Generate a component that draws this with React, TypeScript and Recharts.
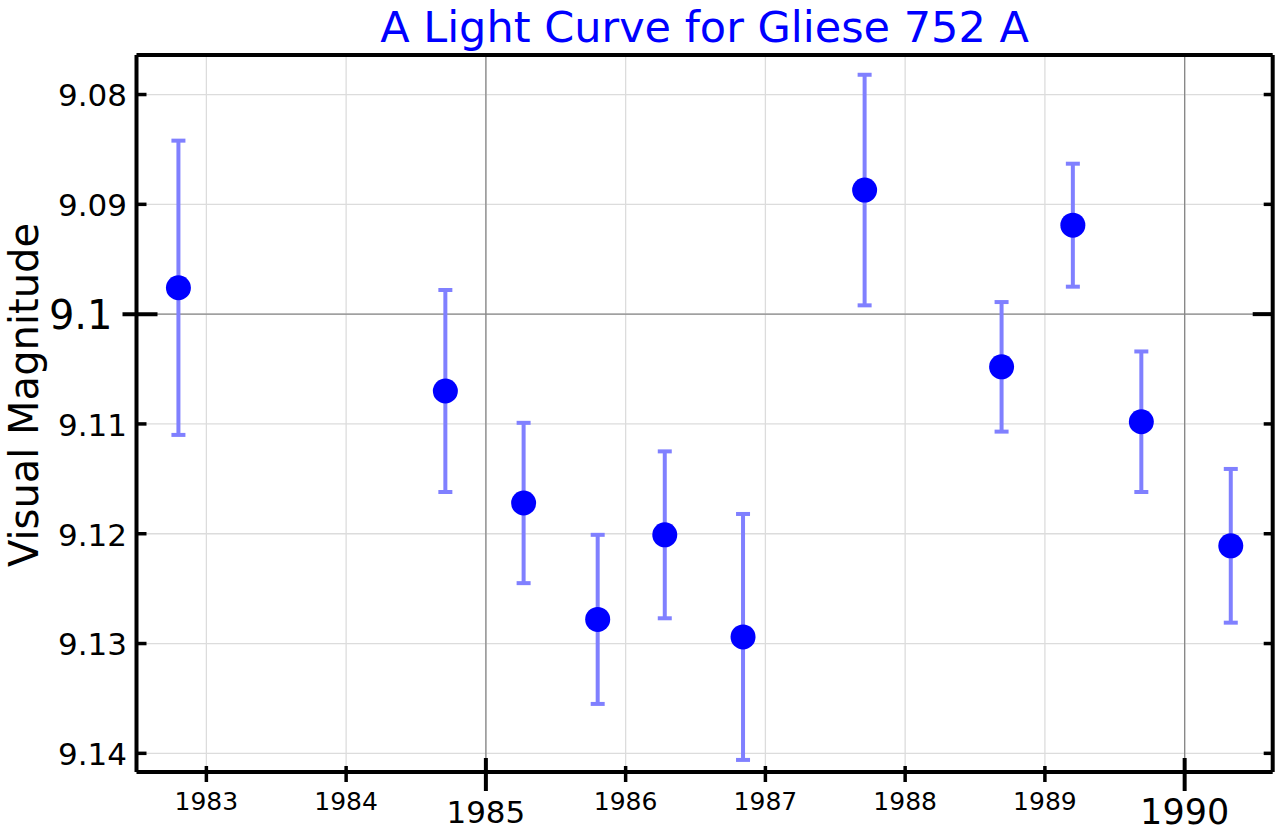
import React from "react"
import {
  ScatterChart,
  Scatter,
  XAxis,
  YAxis,
  CartesianGrid,
  ErrorBar,
  ReferenceLine,
} from "recharts"

// observation epochs (decimal year), visual magnitudes and 1-sigma errors
const years = [1982.8, 1984.71, 1985.27, 1985.8, 1986.28, 1986.84, 1987.71, 1988.69, 1989.2, 1989.69, 1990.33]
const mags = [9.0976, 9.107, 9.1172, 9.1278, 9.1201, 9.1294, 9.0887, 9.1048, 9.0919, 9.1098, 9.1211]
const errs = [0.0134, 0.0092, 0.0073, 0.0077, 0.0076, 0.0112, 0.0105, 0.0059, 0.0056, 0.0064, 0.007]

const yearTicks = [1983, 1984, 1985, 1986, 1987, 1988, 1989, 1990]
const magTicks = [9.08, 9.09, 9.1, 9.11, 9.12, 9.13, 9.14]
const majorYears = [1985, 1990]
const majorMags = [9.1]

const xDomain = [1982.5, 1990.63]
const yDomain = [9.0764, 9.1417]

const points = years.map((year, i) => ({ year, mag: mags[i], err: errs[i] }))

const FONT = '"DejaVu Sans", sans-serif'
const FRAME = 4

function BottomTick(props: any) {
  const { x, y, payload } = props
  const v = payload.value
  const major = majorYears.includes(v)
  const size = v === 1990 ? 35 : major ? 31 : 25
  const dy = v === 1990 ? 52 : major ? 51 : 38
  return (
    <g>
      <line
        x1={x}
        x2={x}
        y1={major ? y - 14 : y - 6}
        y2={major ? y + 19 : y + 10}
        stroke="#000"
        strokeWidth={major ? 4 : 3.5}
      />
      <text x={x} y={y + dy} textAnchor="middle" fontSize={size} fontFamily={FONT} fill="#000">
        {v}
      </text>
    </g>
  )
}

function TopTick(props: any) {
  const { x, y, payload } = props
  const major = majorYears.includes(payload.value)
  return <line x1={x} x2={x} y1={y} y2={y + (major ? 12 : 7)} stroke="#000" strokeWidth={major ? 4 : 3.5} />
}

function LeftTick(props: any) {
  const { x, y, payload } = props
  const v = payload.value
  const major = majorMags.includes(v)
  const size = major ? 40 : 31
  return (
    <g>
      <line
        x1={major ? x - 14 : x}
        x2={major ? x + 21 : x + 10}
        y1={y}
        y2={y}
        stroke="#000"
        strokeWidth={major ? 4 : 3.5}
      />
      <text
        x={x - (major ? 24 : 9.5)}
        y={y + size * 0.38}
        textAnchor="end"
        fontSize={size}
        fontFamily={FONT}
        fill="#000"
      >
        {String(v)}
      </text>
    </g>
  )
}

function RightTick(props: any) {
  const { x, y, payload } = props
  const major = majorMags.includes(payload.value)
  return <line x1={x - (major ? 20 : 9)} x2={x} y1={y} y2={y} stroke="#000" strokeWidth={major ? 4 : 3.5} />
}

function Dot(props: any) {
  return <circle cx={props.cx} cy={props.cy} r={12.5} fill="#0000ff" />
}

export default function App() {
  return (
    <div style={{ position: "absolute", left: 0, top: 0, width: 1280, height: 832, background: "#fff" }}>
      <ScatterChart width={1280} height={832} margin={{ top: 0, right: 0, bottom: 0, left: 0 }}>
        <CartesianGrid stroke="#dcdcdc" strokeWidth={1.3} />
        <XAxis
          dataKey="year"
          type="number"
          domain={xDomain}
          allowDataOverflow
          ticks={yearTicks}
          interval={0}
          height={60}
          tickSize={0}
          tickMargin={0}
          tickLine={false}
          tick={<BottomTick />}
          axisLine={{ stroke: "#000", strokeWidth: FRAME }}
        />
        <XAxis
          xAxisId="top"
          orientation="top"
          type="number"
          domain={xDomain}
          allowDataOverflow
          ticks={yearTicks}
          interval={0}
          height={55}
          tickSize={0}
          tickMargin={0}
          tickLine={false}
          tick={<TopTick />}
          axisLine={{ stroke: "#000", strokeWidth: FRAME }}
        />
        <YAxis
          dataKey="mag"
          type="number"
          reversed
          domain={yDomain}
          allowDataOverflow
          ticks={magTicks}
          interval={0}
          width={136.5}
          tickSize={0}
          tickMargin={0}
          tickLine={false}
          tick={<LeftTick />}
          axisLine={{ stroke: "#000", strokeWidth: FRAME }}
        />
        <YAxis
          yAxisId="right"
          orientation="right"
          type="number"
          reversed
          domain={yDomain}
          allowDataOverflow
          ticks={magTicks}
          interval={0}
          width={7.3}
          tickSize={0}
          tickMargin={0}
          tickLine={false}
          tick={<RightTick />}
          axisLine={{ stroke: "#000", strokeWidth: FRAME }}
        />
        {majorYears.map((yr) => (
          <ReferenceLine key={yr} x={yr} stroke="#888" strokeWidth={1.3} />
        ))}
        {majorMags.map((m) => (
          <ReferenceLine key={m} y={m} stroke="#888" strokeWidth={1.3} />
        ))}
        <Scatter data={points} shape={<Dot />} isAnimationActive={false}>
          <ErrorBar
            dataKey="err"
            direction="y"
            width={7}
            stroke="#8080ff"
            strokeWidth={4}
            isAnimationActive={false}
          />
        </Scatter>
      </ScatterChart>
      <svg
        width={1280}
        height={832}
        style={{ position: "absolute", left: 0, top: 0, pointerEvents: "none" }}
      >
        <text x={704.5} y={42} textAnchor="middle" fontSize={43} fontFamily={FONT} fill="#0000ff">
          A Light Curve for Gliese 752 A
        </text>
        <text
          x={38}
          y={395}
          transform="rotate(-90, 38, 395)"
          textAnchor="middle"
          fontSize={40}
          fontFamily={FONT}
          fill="#000"
        >
          Visual Magnitude
        </text>
      </svg>
    </div>
  )
}
